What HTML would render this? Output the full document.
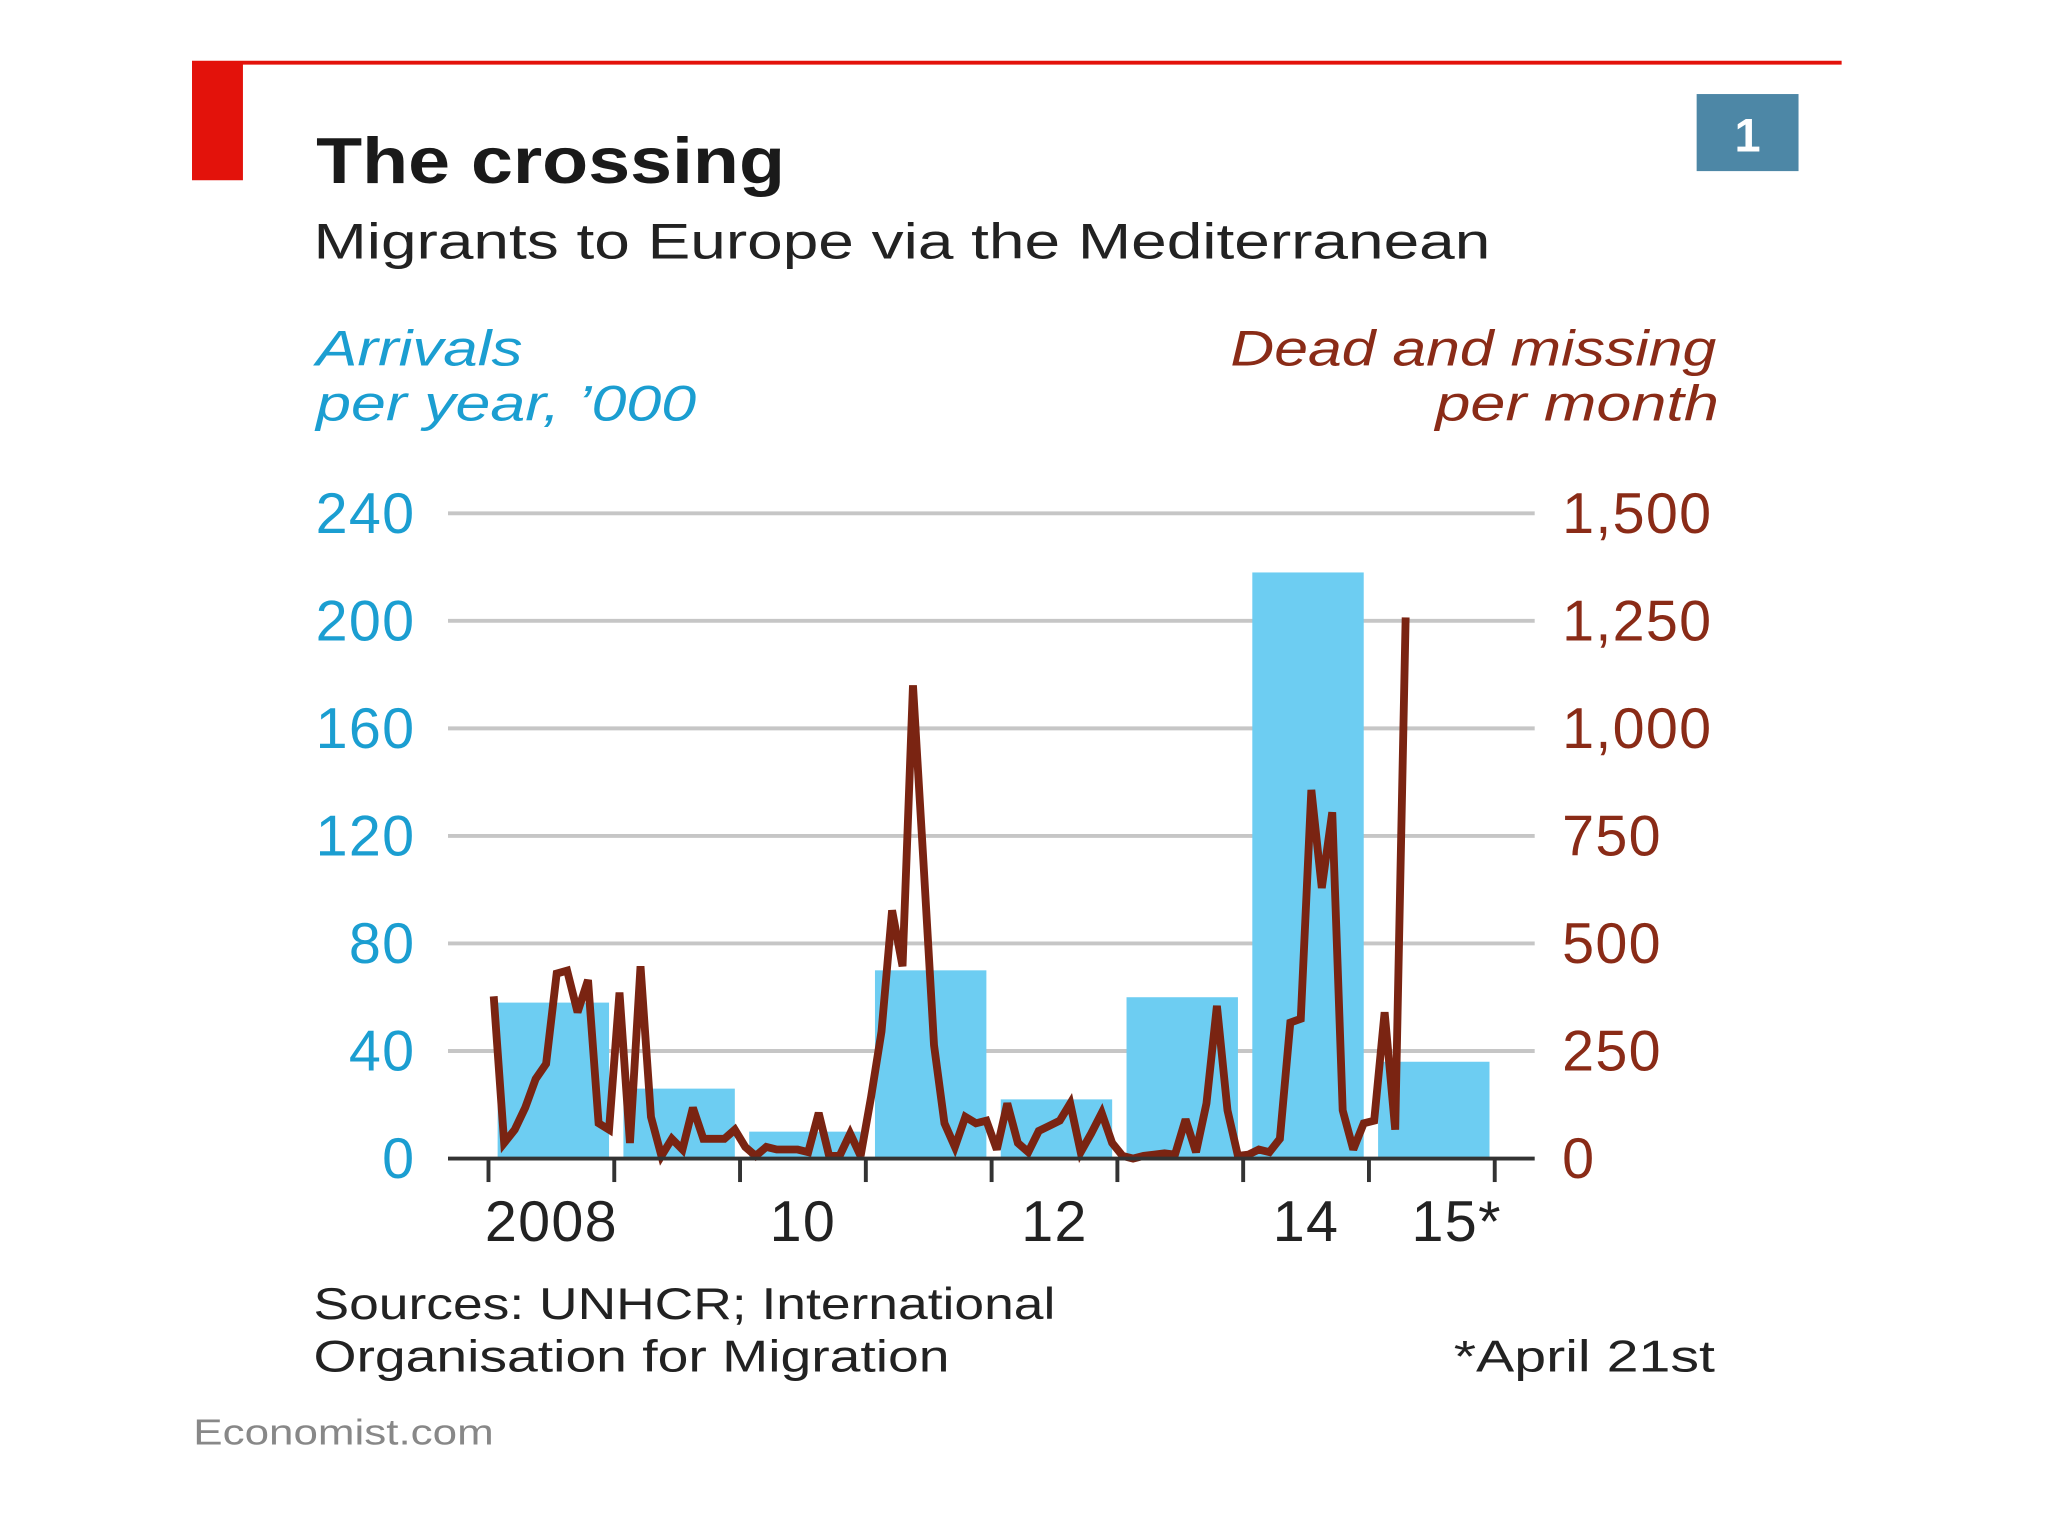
<!DOCTYPE html>
<html><head><meta charset="utf-8"><style>
html,body{margin:0;padding:0;background:#fff;}
svg{display:block;font-family:"Liberation Sans",sans-serif;}
</style></head><body>
<svg id="chart" width="2048" height="1536" viewBox="0 0 1568 1176" xmlns="http://www.w3.org/2000/svg">
<rect x="0" y="0" width="1568" height="1176" fill="#fff"/>
<line x1="147" y1="48" x2="1410" y2="48" stroke="#e3120b" stroke-width="3"/>
<rect x="147" y="47" width="39" height="91" fill="#e3120b"/>
<text x="242" y="140" font-size="50" font-weight="bold" fill="#1a1a1a" textLength="359" lengthAdjust="spacingAndGlyphs">The crossing</text>
<text x="240" y="198" font-size="38" fill="#222" textLength="901" lengthAdjust="spacingAndGlyphs">Migrants to Europe via the Mediterranean</text>
<rect x="1299" y="72" width="78" height="59" fill="#4d87a6"/>
<text x="1338" y="116" font-size="36" font-weight="bold" fill="#fff" text-anchor="middle">1</text>
<g font-style="italic" font-size="38">
<text fill="#1b9ed1"><tspan x="242" y="280" textLength="158" lengthAdjust="spacingAndGlyphs">Arrivals</tspan><tspan x="242" y="322" textLength="291" lengthAdjust="spacingAndGlyphs">per year, ’000</tspan></text>
<text fill="#8a2b17" text-anchor="end"><tspan x="1314" y="280" textLength="372" lengthAdjust="spacingAndGlyphs">Dead and missing</tspan><tspan x="1316" y="322" textLength="217" lengthAdjust="spacingAndGlyphs">per month</tspan></text>
</g>
<g id="grid"></g><g id="bars"></g><g id="line"></g><g id="axes"></g>
<text font-size="34" fill="#222"><tspan x="240" y="1010" textLength="568" lengthAdjust="spacingAndGlyphs">Sources: UNHCR; International</tspan><tspan x="240" y="1050" textLength="487" lengthAdjust="spacingAndGlyphs">Organisation for Migration</tspan></text>
<text x="1313" y="1050" font-size="34" fill="#222" text-anchor="end" textLength="200" lengthAdjust="spacingAndGlyphs">*April 21st</text>
<text x="148" y="1106" font-size="28" fill="#888" textLength="230" lengthAdjust="spacingAndGlyphs">Economist.com</text>
</svg>
<script>
const years = ["2008","2009","2010","2011","2012","2013","2014","2015"];
const xLabels = ["2008","10","12","14","15*"];
const xLabelYears = [0,2,4,6,7];
const arrivals = [58,26,10,70,22,60,218,36];
const leftTicks = [0,40,80,120,160,200,240];
const rightTicks = [0,250,500,750,1000,1250,1500];
const rightTickLabels = ["0","250","500","750","1,000","1,250","1,500"];
const deaths = [377,36,67,118,185,220,430,437,340,415,82,67,
386,36,447,97,6,46,21,118,46,46,46,67,
27,6,27,21,21,21,15,106,6,6,58,6,
143,295,577,447,1100,690,264,82,27,97,82,88,
21,128,36,15,64,76,88,128,15,58,106,36,
6,0,6,9,12,9,91,15,128,355,112,6,
9,21,15,46,316,325,857,629,805,112,21,82,
88,340,67,1258];
const NS="http://www.w3.org/2000/svg";
const x0=374, yw=96.3, yBase=887, yTopPx=393;
const xYear=i=>x0+i*yw;
const xMonth=m=>x0+(m+0.5)*yw/12;
const yL=v=>yBase-v/240*(yBase-yTopPx);
const yR=v=>yBase-v/1500*(yBase-yTopPx);
function mk(tag,attrs,parent){const e=document.createElementNS(NS,tag);for(const k in attrs)e.setAttribute(k,attrs[k]);document.getElementById(parent).appendChild(e);return e;}
leftTicks.forEach((t,i)=>{
  if(i>0){const g=mk('line',{x1:343,x2:1175,y1:yL(t),y2:yL(t),stroke:'#c6c6c6','stroke-width':3},'grid');
  
  }
  const l=mk('text',{x:318,y:yL(t)+15,'font-size':44,fill:'#1b9ed1','text-anchor':'end','letter-spacing':1},'axes');l.textContent=t;
  
  
});
rightTicks.forEach((t,i)=>{
  const l=mk('text',{x:1196,y:yR(t)+15,'font-size':44,fill:'#8a2b17','letter-spacing':1},'axes');l.textContent=rightTickLabels[i];
  
  
});
years.forEach((y,i)=>{
  const b=mk('rect',{x:xYear(i)+7,y:yL(arrivals[i]),width:yw-11,height:yBase-yL(arrivals[i]),fill:'#6dcdf2'},'bars');
  
  
});
const pts=deaths.map((v,m)=>xMonth(m).toFixed(1)+','+yR(v).toFixed(1)).join(' ');
const pl=mk('polyline',{points:pts,fill:'none',stroke:'#7a2412','stroke-width':6,'stroke-linejoin':'miter','stroke-miterlimit':3},'line');


const ax=mk('line',{x1:343,x2:1175,y1:yBase,y2:yBase,stroke:'#333','stroke-width':3},'axes');


for(let i=0;i<=8;i++){const t=mk('line',{x1:xYear(i),x2:xYear(i),y1:yBase,y2:yBase+18,stroke:'#333','stroke-width':3},'axes');
  
  }
xLabels.forEach((s,i)=>{
  const last=i===xLabels.length-1;
  const l=mk('text',{x:xYear(xLabelYears[i])+yw/2+(last?19:0),y:950,'font-size':44,fill:'#222','text-anchor':'middle','letter-spacing':1},'axes');l.textContent=s;
  
  
});
</script>
</body></html>
